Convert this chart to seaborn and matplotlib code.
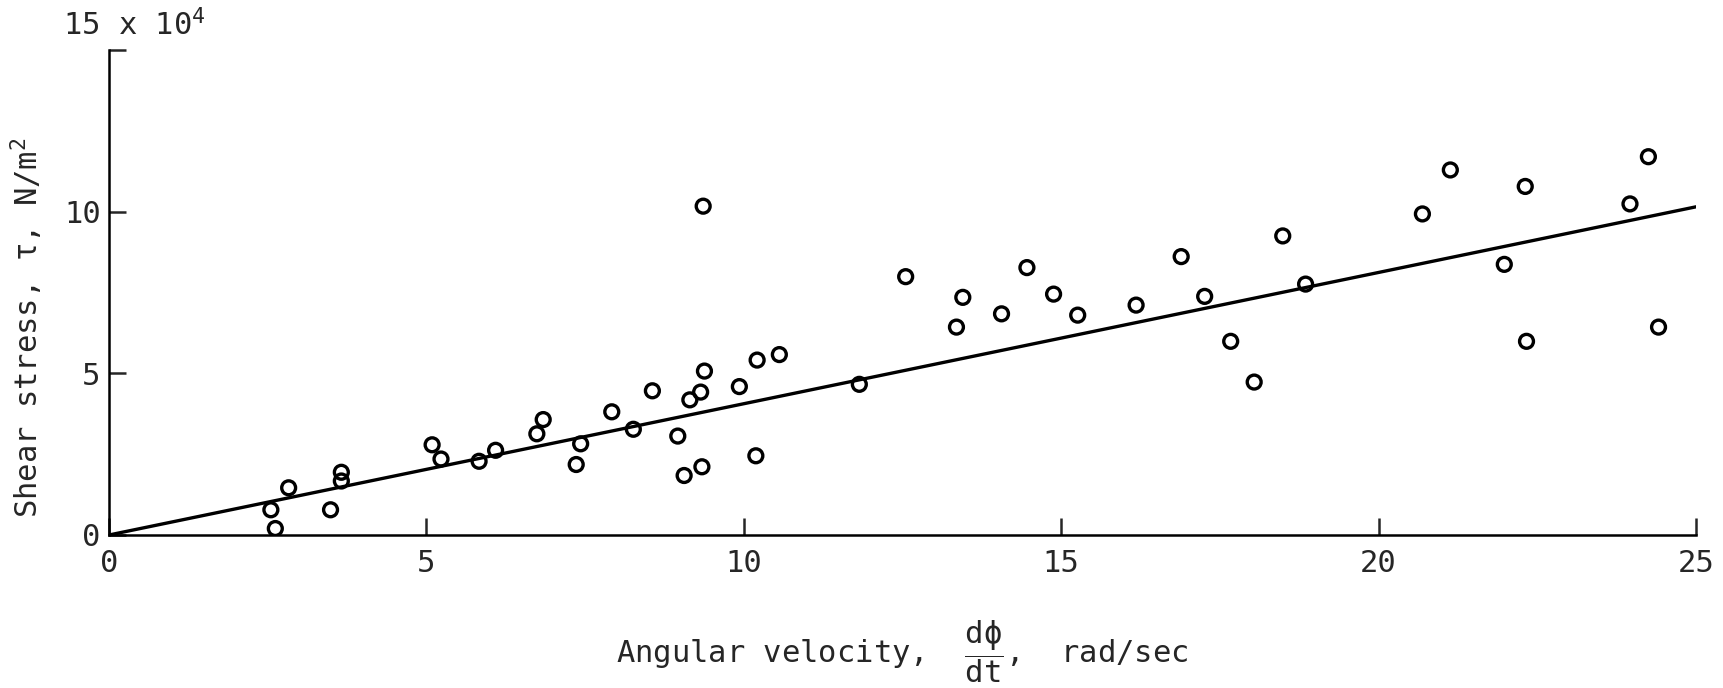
import numpy as np
import pandas as pd
import matplotlib
matplotlib.use("Agg")
import matplotlib.pyplot as plt
import seaborn as sns

# ── Data ──────────────────────────────────────────────────────────────────────

# angular velocity, rad/sec
omega = [2.55, 2.62, 2.83, 3.49, 3.66, 3.66, 5.09, 5.23, 5.83, 6.09,
         6.74, 6.84, 7.36, 7.43, 7.92, 8.26, 8.56, 8.96, 9.06, 9.15,
         9.32, 9.38, 9.34, 9.36, 9.93, 10.19, 10.21, 10.56, 11.82, 12.55,
         13.35, 13.45, 14.06, 14.46, 14.88, 15.26, 16.18, 16.89, 17.26, 17.67,
         18.04, 18.49, 18.85, 20.69, 21.13, 21.98, 22.31, 22.33, 23.96, 24.25,
         24.41]
# shear stress, x 10^4 N/m^2
tau = [0.78, 0.20, 1.46, 0.78, 1.94, 1.67, 2.79, 2.35, 2.28, 2.62,
       3.13, 3.57, 2.18, 2.82, 3.81, 3.27, 4.46, 3.06, 1.84, 4.18,
       4.42, 5.07, 2.11, 10.17, 4.59, 2.45, 5.41, 5.58, 4.66, 7.99,
       6.43, 7.35, 6.84, 8.27, 7.45, 6.80, 7.11, 8.61, 7.38, 5.99,
       4.73, 9.25, 7.76, 9.93, 11.29, 8.37, 10.78, 5.99, 10.24, 11.70,
       6.43]

# faired line through the data
fit_x = [0, 25]
fit_y = [0, 10.15]

x_ticks = [0, 5, 10, 15, 20, 25]
y_ticks = [0, 5, 10, 15]
y_ticklabels = ["0", "5", "10", ""]

# ── Style ─────────────────────────────────────────────────────────────────────

sns.set_style("ticks")
plt.rcParams['font.family'] = ['DejaVu Sans Mono', 'DejaVu Sans']
plt.rcParams['mathtext.fontset'] = 'custom'
plt.rcParams['mathtext.rm'] = 'DejaVu Sans Mono'
plt.rcParams['mathtext.it'] = 'DejaVu Sans Mono'

FS = 22

df = pd.DataFrame({'omega': omega, 'tau': tau})
fit = pd.DataFrame({'x': fit_x, 'y': fit_y})

W, H = 1723, 688
fig = plt.figure(figsize=(W / 100, H / 100), dpi=100)
ax = fig.add_axes([109 / W, 1 - 535 / H, (1696 - 109) / W, (535 - 50) / H])

sns.lineplot(data=fit, x='x', y='y', color='black', lw=2.4, ax=ax)
sns.scatterplot(data=df, x='omega', y='tau', marker='o', s=100,
                facecolor='none', edgecolor='black', linewidth=2.4,
                ax=ax, zorder=3)

ax.set_xlim(0, 25)
ax.set_ylim(0, 15)
ax.set_xticks(x_ticks)
ax.set_yticks(y_ticks)
ax.set_yticklabels(y_ticklabels)
ax.tick_params(direction='in', length=12, width=1.8, labelsize=FS, pad=6)
ax.tick_params(axis='x', pad=10)
for side in ['top', 'right']:
    ax.spines[side].set_visible(False)
for side in ['left', 'bottom']:
    ax.spines[side].set_linewidth(1.8)
    ax.spines[side].set_color('black')

ax.set_xlabel(r"Angular velocity,  $\dfrac{d\phi}{dt}$,  rad/sec",
              fontsize=FS, va='center')
ax.xaxis.set_label_coords(0.5, -0.24)
ax.set_ylabel(r"Shear stress, $\tau$, N/m$^2$", fontsize=FS, va='center')
ax.yaxis.set_label_coords(-0.0517, 0.427)

fig.text(63 / W, 1 - 35 / H, r"15 x 10$^4$",
         fontsize=FS, va='baseline', ha='left')

plt.savefig('out.png', dpi=100)
plt.close()
